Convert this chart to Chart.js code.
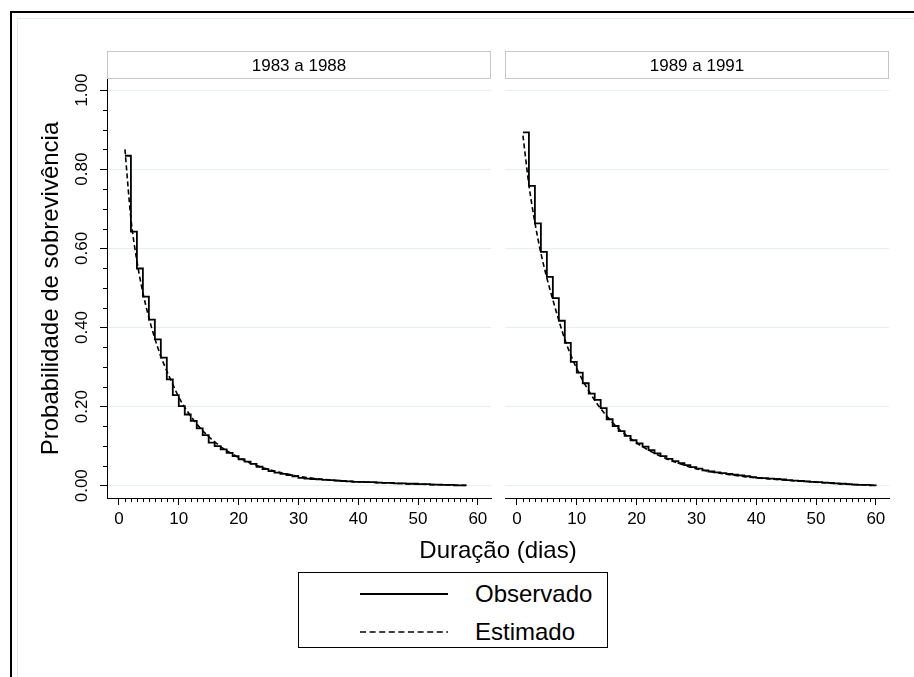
<!DOCTYPE html>
<html lang="pt">
<head>
<meta charset="UTF-8">
<title>Probabilidade de sobrevivência</title>
<script src="https://cdn.jsdelivr.net/npm/chart.js"></script>
<style>
    body {
        margin: 0;
        background: #fff;
        font-family: 'Liberation Sans', Arial, sans-serif;
        color: #000;
    }
    #page {
        position: relative;
        width: 914px;
        height: 677px;
        overflow: hidden;
        background: #fff;
    }
    .frame {
        position: absolute;
        left: 10px; top: 11px;
        width: 950px; height: 720px;
        border-left: 2px solid #000;
        border-top: 2px solid #000;
    }
    .inner {
        position: absolute;
        left: 17px; top: 18px;
        width: 950px; height: 720px;
        border-left: 1px solid #e4ecec;
        border-top: 1px solid #e4ecec;
    }
    canvas { position: absolute; left: 0; top: 0; }
    #xtitle {
        position: absolute;
        left: 107px; width: 782px; top: 536px;
        text-align: center;
        font-size: 24px; line-height: 27px;
    }
    #legend {
        position: absolute;
        left: 298px; top: 572px;
        width: 308px; height: 74px;
        border: 1px solid #000;
        background: #fff;
    }
    #legend svg { position: absolute; left: 0; top: 0; }
    #legend span {
        position: absolute;
        left: 176px;
        font-size: 24px; line-height: 27px;
    }
</style>
</head>
<body>
<div id="page">
    <div class="frame"></div>
    <div class="inner"></div>
    <canvas id="left" width="914" height="677"></canvas>
    <canvas id="right" width="914" height="677"></canvas>
    <div id="xtitle">Duração (dias)</div>
    <div id="legend">
        <svg width="308" height="74">
            <line x1="61" y1="21" x2="149" y2="21" stroke="#000" stroke-width="2"/>
            <line x1="61" y1="59" x2="149" y2="59" stroke="#000" stroke-width="1.7" stroke-dasharray="6,3.6"/>
        </svg>
        <span style="top:7px">Observado</span>
        <span style="top:45px">Estimado</span>
    </div>
</div>
<script>
// tick labels
const xTicks = [0, 10, 20, 30, 40, 50, 60];
const yTicks = [0, 0.2, 0.4, 0.6, 0.8, 1.0];
const panelTitles = ['1983 a 1988', '1989 a 1991'];

// 1983 a 1988 - observed (Kaplan-Meier), one value per day
const daysObsA = [1,2,3,4,5,6,7,8,9,10,11,12,13,14,15,16,17,18,19,20,21,22,23,24,25,26,27,28,29,30,
                  31,32,33,34,35,36,37,38,39,40,41,42,43,44,45,46,47,48,49,50,51,52,53,54,55,56,57,58];
const obsA = [0.834,0.642,0.549,0.478,0.420,0.370,0.324,0.269,0.229,0.201,0.180,0.164,0.145,0.128,0.109,
              0.100,0.092,0.083,0.075,0.067,0.061,0.055,0.048,0.042,0.037,0.033,0.030,0.027,0.024,0.020,
              0.018,0.017,0.016,0.015,0.014,0.013,0.012,0.011,0.010,0.010,0.009,0.009,0.008,0.007,0.007,
              0.006,0.006,0.005,0.005,0.004,0.004,0.003,0.003,0.002,0.002,0.001,0.001,0.000];
// 1983 a 1988 - estimated
const daysEstA = [1,2,3,4,5,6,7,8,9,10,11,12,13,14,15,16,17,18,19,20,21,22,23,24,25,26,27,28,29,30,35,40,45,50,55,58];
const estA = [0.850,0.675,0.568,0.488,0.425,0.372,0.327,0.290,0.256,0.224,0.198,0.176,0.156,0.139,0.124,
              0.111,0.099,0.089,0.080,0.071,0.064,0.057,0.051,0.046,0.041,0.037,0.033,0.030,0.027,0.024,
              0.015,0.010,0.007,0.004,0.002,0.001];

// 1989 a 1991 - observed
const daysObsB = [1,2,3,4,5,6,7,8,9,10,11,12,13,14,15,16,17,18,19,20,21,22,23,24,25,26,27,28,29,30,
                  31,32,33,34,35,36,37,38,39,40,41,42,43,44,45,46,47,48,49,50,51,52,53,54,55,56,57,58,59,60];
const obsB = [0.893,0.758,0.663,0.591,0.528,0.474,0.417,0.361,0.313,0.286,0.259,0.233,0.217,0.196,0.168,
              0.151,0.138,0.126,0.115,0.107,0.099,0.090,0.082,0.075,0.068,0.062,0.057,0.052,0.047,0.043,
              0.039,0.036,0.034,0.032,0.030,0.028,0.026,0.024,0.022,0.020,0.019,0.018,0.017,0.016,0.014,
              0.013,0.012,0.011,0.010,0.009,0.008,0.007,0.006,0.005,0.004,0.003,0.002,0.002,0.001,0.000];
// 1989 a 1991 - estimated
const daysEstB = [1,2,3,4,5,6,7,8,9,10,11,12,13,14,15,16,17,18,19,20,21,22,23,24,25,26,27,28,29,30,35,40,45,50,55,60];
const estB = [0.885,0.760,0.665,0.588,0.525,0.470,0.418,0.370,0.330,0.296,0.266,0.240,0.216,0.195,0.176,
              0.159,0.144,0.131,0.119,0.108,0.099,0.090,0.082,0.075,0.068,0.062,0.057,0.052,0.047,0.043,
              0.029,0.020,0.014,0.009,0.004,0.001];

const FONT = "'Liberation Sans', Arial, sans-serif";

function pts(xs, ys) {
    return xs.map((x, i) => ({ x: x, y: ys[i] }));
}

// header strip above each panel + minor ticks
const panelDecor = {
    id: 'panelDecor',
    beforeDraw(chart, args, opts) {
        const { ctx, chartArea } = chart;
        ctx.save();
        ctx.fillStyle = '#fff';
        ctx.strokeStyle = '#c6c6c6';
        ctx.lineWidth = 1;
        ctx.fillRect(chartArea.left, 51, chartArea.right - chartArea.left, 28);
        ctx.strokeRect(chartArea.left + 0.5, 51.5, chartArea.right - chartArea.left - 1, 27);
        ctx.fillStyle = '#000';
        ctx.font = '17px ' + FONT;
        ctx.textAlign = 'center';
        ctx.textBaseline = 'middle';
        ctx.fillText(opts.title, (chartArea.left + chartArea.right) / 2, 66);
        ctx.restore();
    },
    afterDraw(chart, args, opts) {
        const { ctx, chartArea, scales } = chart;
        ctx.save();
        ctx.strokeStyle = '#000';
        ctx.lineWidth = 1;
        ctx.beginPath();
        for (let d = 0; d <= 60; d++) {
            if (d % 10 === 0) continue;
            const px = Math.round(scales.x.getPixelForValue(d)) + 0.5;
            ctx.moveTo(px, chartArea.bottom);
            ctx.lineTo(px, chartArea.bottom + 4);
        }
        if (opts.yMinor) {
            for (let k = 0; k <= 20; k++) {
                if (k % 4 === 0) continue;
                const py = Math.round(scales.y.getPixelForValue(k * 0.05)) + 0.5;
                ctx.moveTo(chartArea.left, py);
                ctx.lineTo(chartArea.left - 4, py);
            }
        }
        ctx.stroke();
        ctx.restore();
    }
};

function makePanel(id, title, obsData, estData, left, right, withY) {
    return new Chart(document.getElementById(id), {
        type: 'line',
        data: {
            datasets: [{
                label: 'Observado',
                data: obsData,
                borderColor: '#000',
                borderWidth: 1.8,
                stepped: 'before',
                pointRadius: 0,
                fill: false
            }, {
                label: 'Estimado',
                data: estData,
                borderColor: '#000',
                borderWidth: 1.6,
                borderDash: [5, 3],
                cubicInterpolationMode: 'monotone',
                pointRadius: 0,
                fill: false
            }]
        },
        options: {
            responsive: false,
            animation: false,
            events: [],
            layout: { padding: { left: withY ? 0 : left, top: 79, right: 914 - right, bottom: 119 } },
            plugins: {
                legend: { display: false },
                tooltip: { enabled: false },
                panelDecor: { title: title, yMinor: withY }
            },
            scales: {
                x: {
                    type: 'linear',
                    min: -2,
                    max: 62.2,
                    afterBuildTicks: s => { s.ticks = xTicks.map(v => ({ value: v })); },
                    afterFit: s => { s.height = 60; },
                    grid: { drawOnChartArea: false, tickLength: 7, tickColor: '#000', tickWidth: 1 },
                    border: { display: true, color: '#000', width: 1 },
                    ticks: { color: '#000', font: { family: FONT, size: 17 }, padding: 4, maxRotation: 0, autoSkip: false }
                },
                y: {
                    type: 'linear',
                    min: -0.031,
                    max: 1.028,
                    afterBuildTicks: s => { s.ticks = yTicks.map(v => ({ value: v })); },
                    afterFit: s => { s.width = withY ? left : 0; },
                    grid: { color: '#e6eef1', lineWidth: 1, drawTicks: withY, tickLength: 7, tickColor: '#000' },
                    border: { display: withY, color: '#000', width: 1 },
                    ticks: {
                        display: withY,
                        color: '#000',
                        font: { family: FONT, size: 17 },
                        callback: v => v.toFixed(2),
                        minRotation: 90,
                        maxRotation: 90,
                        crossAlign: 'center',
                        padding: 1
                    },
                    title: {
                        display: withY,
                        text: 'Probabilidade de sobrevivência',
                        color: '#000',
                        font: { family: FONT, size: 24 },
                        padding: { top: 37, bottom: 0 }
                    }
                }
            }
        },
        plugins: [panelDecor]
    });
}

makePanel('left', panelTitles[0], pts(daysObsA, obsA), pts(daysEstA, estA), 107, 491, true);
makePanel('right', panelTitles[1], pts(daysObsB, obsB), pts(daysEstB, estB), 505, 889, false);
</script>
</body>
</html>
